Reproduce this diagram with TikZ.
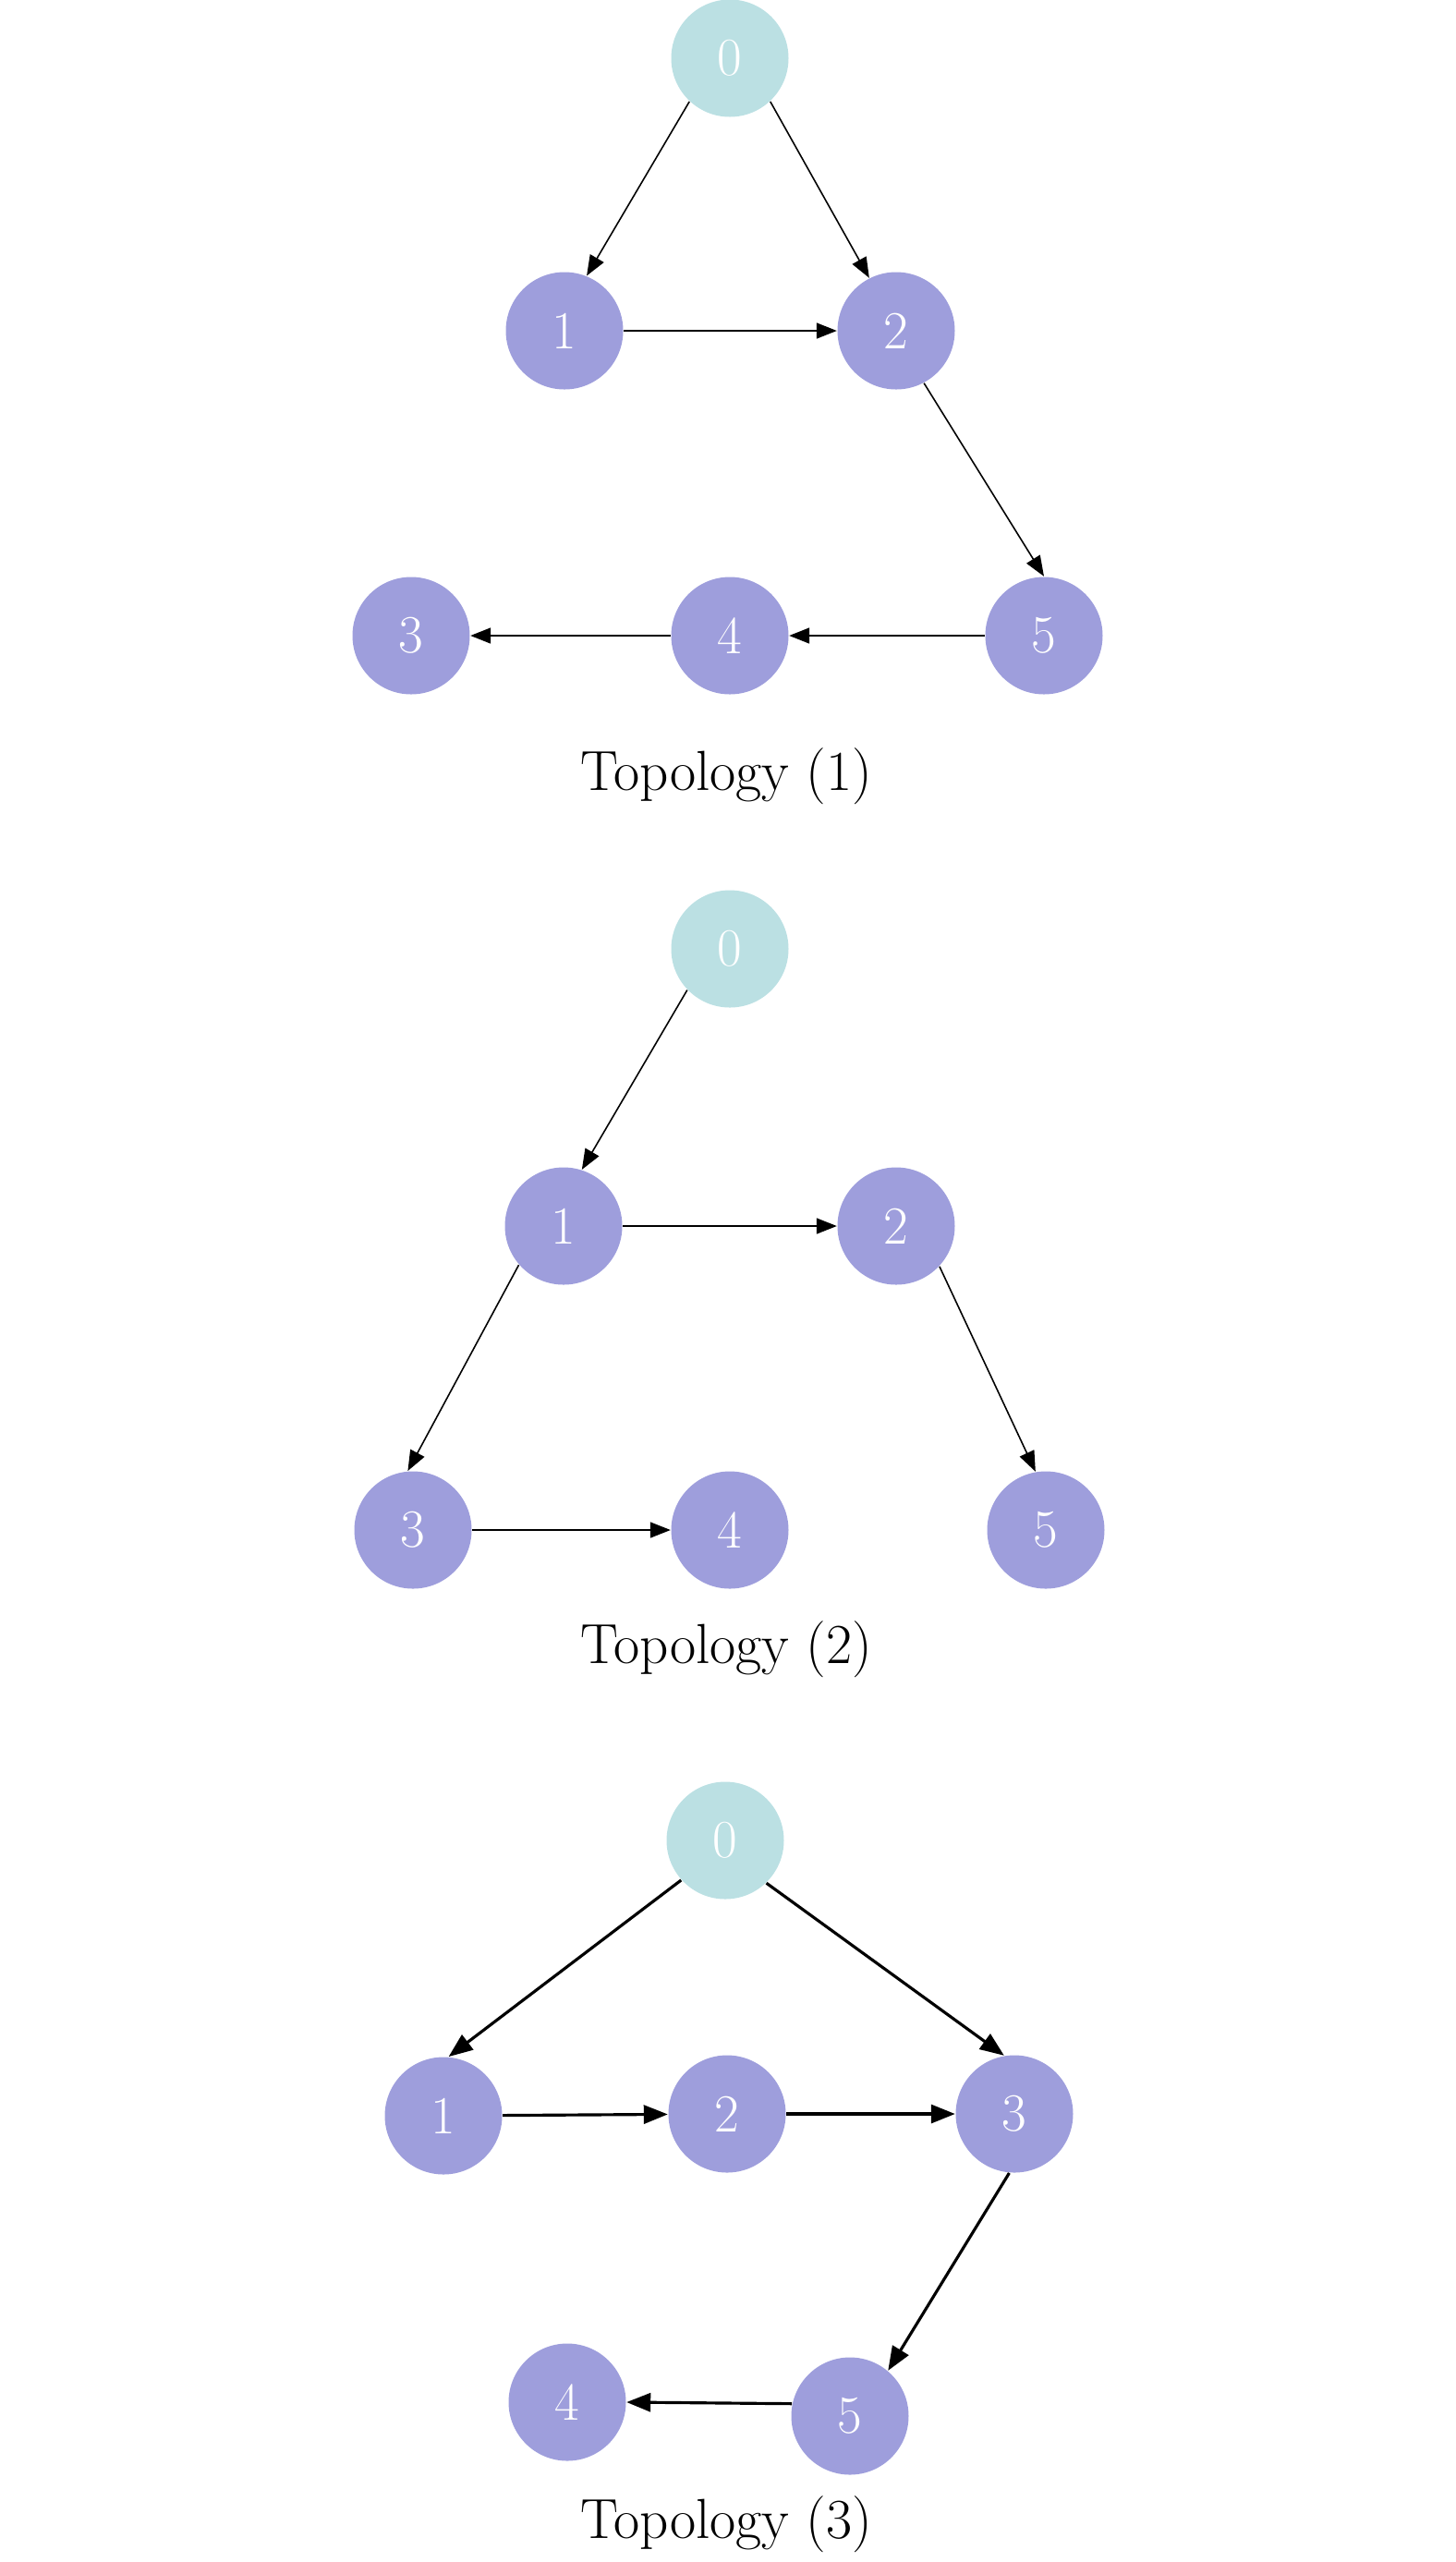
\documentclass[tikz,border=0pt]{standalone}
\usepackage{tikz}
\usetikzlibrary{arrows.meta}
\definecolor{rootcol}{RGB}{187,224,227}
\definecolor{nodecol}{RGB}{158,158,220}
\tikzstyle{root} = [circle, minimum size=1.27cm, inner sep=0pt, text centered, fill=rootcol, text=white, font=\fontsize{16.5}{20}\selectfont]
\tikzstyle{peer} = [root, fill=nodecol]
\tikzstyle{caption} = [anchor=base, font=\fontsize{17.4}{21}\selectfont]
\tikzstyle{arrow} = [line width=0.45pt, ->, >={Triangle[length=2.2mm, width=1.7mm]}]
\tikzstyle{thickarrow} = [line width=0.9pt, ->, >={Triangle[length=2.6mm, width=2mm]}]

\begin{document}
\begin{tikzpicture}
            \useasboundingbox (0,0) rectangle (15.75,-27.73);

            % Topology (1)
            \node [root] at (7.90,-0.63) (a0) {0};
            \node [peer] at (6.11,-3.58) (a1) {1};
            \node [peer] at (9.70,-3.58) (a2) {2};
            \node [peer] at (4.45,-6.88) (a3) {3};
            \node [peer] at (7.90,-6.88) (a4) {4};
            \node [peer] at (11.30,-6.88) (a5) {5};
            \node [caption] at (7.86,-8.55) (cap1) {Topology (1)};

            \draw [arrow] (a0.227) -- (a1.68);
            \draw [arrow] (a0.313) -- (a2.117);
            \draw [arrow] (a1) -- (a2);
            \draw [arrow] (a2.298) -- (a5.north);
            \draw [arrow] (a5) -- (a4);
            \draw [arrow] (a4) -- (a3);

            % Topology (2)
            \node [root] at (7.90,-10.27) (b0) {0};
            \node [peer] at (6.10,-13.27) (b1) {1};
            \node [peer] at (9.70,-13.27) (b2) {2};
            \node [peer] at (4.47,-16.56) (b3) {3};
            \node [peer] at (7.90,-16.56) (b4) {4};
            \node [peer] at (11.32,-16.56) (b5) {5};
            \node [caption] at (7.86,-18.00) (cap2) {Topology (2)};

            \draw [arrow] (b0.224) -- (b1.72);
            \draw [arrow] (b1) -- (b2);
            \draw [arrow] (b1.221) -- (b3.95);
            \draw [arrow] (b2.317) -- (b5.100);
            \draw [arrow] (b3) -- (b4);

            % Topology (3)
            \node [root] at (7.85,-19.92) (c0) {0};
            \node [peer] at (4.80,-22.90) (c1) {1};
            \node [peer] at (7.87,-22.88) (c2) {2};
            \node [peer] at (10.98,-22.88) (c3) {3};
            \node [peer] at (6.14,-26.00) (c4) {4};
            \node [peer] at (9.20,-26.15) (c5) {5};
            \node [caption] at (7.86,-27.47) (cap3) {Topology (3)};

            \draw [thickarrow] (c0.222) -- (c1.85);
            \draw [thickarrow] (c0.314) -- (c3.100);
            \draw [thickarrow] (c1) -- (c2);
            \draw [thickarrow] (c2) -- (c3);
            \draw [thickarrow] (c3.265) -- (c5.50);
            \draw [thickarrow] (c5.168) -- (c4.east);
\end{tikzpicture}
\end{document}
